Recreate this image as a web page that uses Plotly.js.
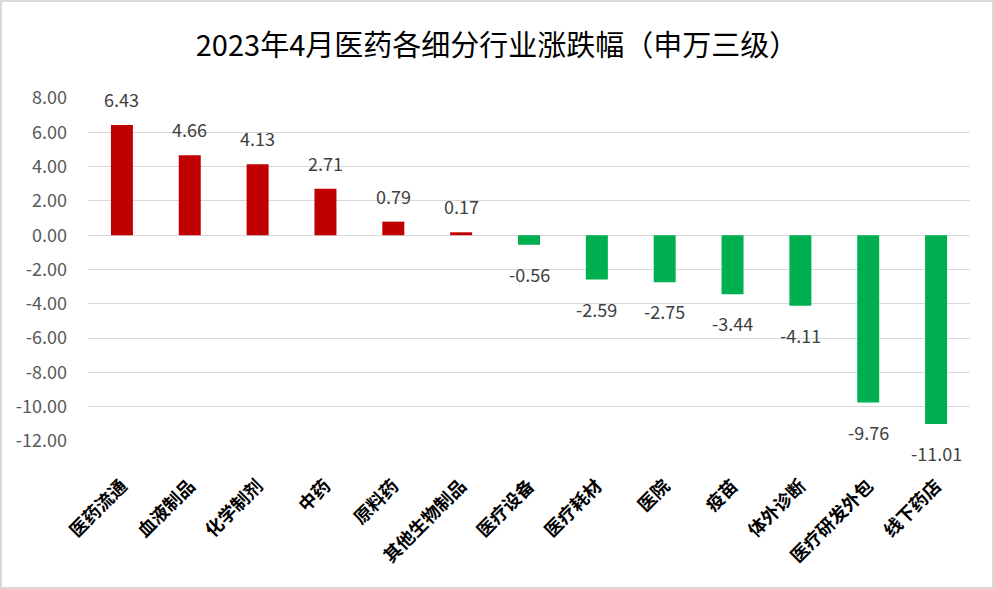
<!DOCTYPE html>
<html>
<head>
<meta charset="utf-8">
<script src="https://cdn.plot.ly/plotly-3.0.1.min.js"></script>
<style>
  html, body { margin: 0; padding: 0; background: #fff; }
  #wrap { position: relative; width: 994px; height: 589px; }
  #chart { width: 994px; height: 589px; }
  #frame { position: absolute; left: 0; top: 0; width: 994px; height: 589px; box-sizing: border-box; border: 2px solid #d9d9d9; pointer-events: none; }
</style>
</head>
<body>
<div id="wrap"><div id="chart"></div><div id="frame"></div></div>
<script>
const categories = ["医药流通", "血液制品", "化学制剂", "中药", "原料药", "其他生物制品", "医疗设备", "医疗耗材", "医院", "疫苗", "体外诊断", "医疗研发外包", "线下药店"];
const changes = [6.43, 4.66, 4.13, 2.71, 0.79, 0.17, -0.56, -2.59, -2.75, -3.44, -4.11, -9.76, -11.01];
const yTicks = [8, 6, 4, 2, 0, -2, -4, -6, -8, -10, -12];

const font = "'Noto Sans CJK SC', 'Noto Sans', sans-serif";
const colors = changes.map(v => v >= 0 ? "#C00000" : "#00B050");

const trace = {
  type: "bar",
  x: categories,
  y: changes,
  marker: { color: colors },
  hoverinfo: "x+y"
};

const annotations = categories.map((c, i) => ({
  x: c, y: changes[i], xref: "x", yref: "y",
  text: changes[i].toFixed(2),
  showarrow: false,
  yshift: changes[i] >= 0 ? 26 : -29,
  font: { family: font, size: 18, color: "#404040" }
}));

const layout = {
  width: 994, height: 589,
  margin: { l: 88, r: 24, t: 98, b: 148 },
  paper_bgcolor: "#ffffff", plot_bgcolor: "#ffffff",
  bargap: 0.676,
  showlegend: false,
  title: {
    text: "2023年4月医药各细分行业涨跌幅（申万三级）",
    x: 0.5, xanchor: "center", y: 0.922, yanchor: "middle",
    font: { family: font, size: 29, color: "#000000" }
  },
  xaxis: {
    type: "category",
    tickangle: -45,
    tickfont: { family: font, size: 18, color: "#000000", weight: "bold" },
    showgrid: false, zeroline: false, showline: false, ticks: "",
    ticklabelstandoff: 30
  },
  yaxis: {
    range: [-12, 8],
    tickvals: yTicks,
    ticktext: yTicks.map(v => v.toFixed(2)),
    tickfont: { family: font, size: 18, color: "#595959" },
    showgrid: true, gridcolor: "#d9d9d9", gridwidth: 1,
    zeroline: false, showline: false, ticks: "",
    ticklabelstandoff: 20
  },
  annotations: annotations
};

Plotly.newPlot("chart", [trace], layout, { displayModeBar: false, staticPlot: true });
</script>
</body>
</html>
